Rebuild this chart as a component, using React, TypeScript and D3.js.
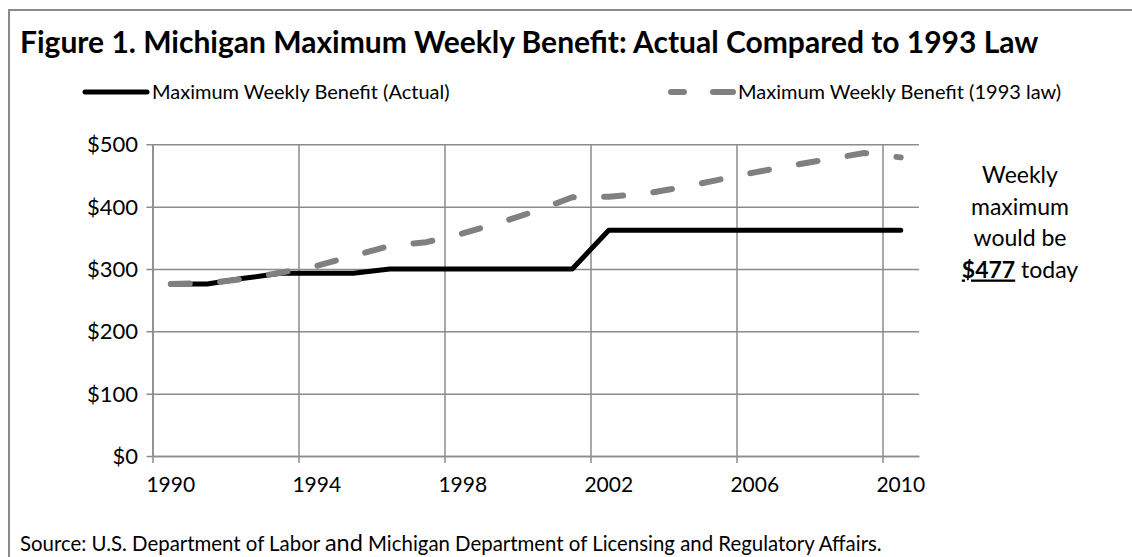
import React, { useEffect, useRef } from 'react';
import * as d3 from 'd3';

// one value per year
const years = [1990, 1991, 1992, 1993, 1994, 1995, 1996, 1997, 1998, 1999, 2000,
  2001, 2002, 2003, 2004, 2005, 2006, 2007, 2008, 2009, 2010];
const actual = [276, 276, 285, 293, 293, 293, 300, 300, 300, 300, 300,
  300, 362, 362, 362, 362, 362, 362, 362, 362, 362];
const law1993 = [276, 277, 284, 294, 305, 321, 337, 343, 357, 374, 393,
  415, 416, 421, 431, 443, 455, 466, 476, 486, 479];

const yTicks = [0, 100, 200, 300, 400, 500];
const xTicks = [1990, 1994, 1998, 2002, 2006, 2010];
const noteLines = ['Weekly', 'maximum', 'would be'];

const W = 1132;
const H = 557;
const FONT = 'Lato, "Open Sans", sans-serif';
const GRID = '#8c8c8c';

export default function App() {
  const svgRef = useRef<SVGSVGElement>(null);

  useEffect(() => {
    if (!svgRef.current) return;
    const svg = d3.select(svgRef.current);
    svg.selectAll('*').remove();

    // outer frame (runs off the right and bottom edges)
    svg.append('rect')
      .attr('x', 9).attr('y', 10)
      .attr('width', W + 20).attr('height', H + 20)
      .attr('fill', 'white')
      .attr('stroke', '#8a8a8a')
      .attr('stroke-width', 2);

    svg.append('text')
      .attr('x', 20).attr('y', 53)
      .attr('font-family', FONT)
      .attr('font-weight', 'bold')
      .attr('font-size', 30)
      .attr('fill', '#000')
      .text('Figure 1. Michigan Maximum Weekly Benefit: Actual Compared to 1993 Law');

    const x = d3.scaleLinear().domain([1990, 2011]).range([152.5, 919]);
    const y = d3.scaleLinear().domain([0, 500]).range([456, 144.3]);

    const g = svg.append('g');

    // horizontal grid + left ticks
    g.append('g')
      .attr('transform', `translate(${x(1990)},0)`)
      .call(d3.axisLeft(y).tickValues(yTicks)
        .tickSize(-(x(2011) - x(1990)))
        .tickSizeOuter(0)
        .tickFormat(() => ''))
      .call(s => s.selectAll('line').attr('stroke', GRID).attr('stroke-width', 1.5).attr('x1', -6))
      .call(s => s.select('.domain').attr('stroke', GRID).attr('stroke-width', 1.5));

    // vertical grid + bottom ticks
    g.append('g')
      .attr('transform', `translate(0,${y(0)})`)
      .call(d3.axisBottom(x).tickValues(xTicks)
        .tickSize(-(y(0) - y(500)))
        .tickSizeOuter(0)
        .tickFormat(() => ''))
      .call(s => s.selectAll('line').attr('stroke', GRID).attr('stroke-width', 1.5).attr('y1', 7))
      .call(s => s.select('.domain').attr('stroke', GRID).attr('stroke-width', 1.5));

    // y labels
    g.selectAll('.ylab')
      .data(yTicks)
      .join('text')
      .attr('x', 138)
      .attr('y', d => y(d))
      .attr('dy', '0.36em')
      .attr('text-anchor', 'end')
      .attr('font-family', FONT)
      .attr('font-size', 22)
      .text(d => `$${d}`);

    // x labels sit in the middle of each year's slot
    g.selectAll('.xlab')
      .data(xTicks)
      .join('text')
      .attr('x', d => x(d + 0.5))
      .attr('y', 492)
      .attr('text-anchor', 'middle')
      .attr('font-family', FONT)
      .attr('font-size', 21)
      .text(d => String(d));

    const line = d3.line<number>()
      .x((_, i) => x(years[i] + 0.5))
      .y(d => y(d));

    g.append('path')
      .datum(actual)
      .attr('fill', 'none')
      .attr('stroke', '#000')
      .attr('stroke-width', 5)
      .attr('stroke-linejoin', 'round')
      .attr('stroke-linecap', 'round')
      .attr('d', line);

    g.append('path')
      .datum(law1993)
      .attr('fill', 'none')
      .attr('stroke', '#808080')
      .attr('stroke-width', 6)
      .attr('stroke-dasharray', '19,30.4')
      .attr('stroke-linejoin', 'round')
      .attr('stroke-linecap', 'round')
      .attr('d', line);

    // legend
    const lg = svg.append('g').attr('font-family', FONT).attr('font-size', 20);
    lg.append('line')
      .attr('x1', 85).attr('x2', 147).attr('y1', 92).attr('y2', 92)
      .attr('stroke', '#000').attr('stroke-width', 5).attr('stroke-linecap', 'round');
    lg.append('text').attr('x', 152).attr('y', 92).attr('dy', '0.35em')
      .text('Maximum Weekly Benefit (Actual)');
    lg.append('line')
      .attr('x1', 671).attr('x2', 733).attr('y1', 92).attr('y2', 92)
      .attr('stroke', '#808080').attr('stroke-width', 6)
      .attr('stroke-dasharray', '13,29,30').attr('stroke-linecap', 'round');
    lg.append('text').attr('x', 738).attr('y', 92).attr('dy', '0.35em')
      .text('Maximum Weekly Benefit (1993 law)');

    // note on the right
    const note = svg.append('g')
      .attr('font-family', FONT)
      .attr('font-size', 23)
      .attr('text-anchor', 'middle');
    noteLines.forEach((t, i) => {
      note.append('text').attr('x', 1020).attr('y', 183 + i * 31.5).text(t);
    });
    const last = note.append('text').attr('x', 1020).attr('y', 183 + 3 * 31.5);
    last.append('tspan')
      .attr('font-weight', 'bold')
      .attr('text-decoration', 'underline')
      .text('$477');
    last.append('tspan').text(' today');

    // source line
    const src = svg.append('text')
      .attr('x', 20).attr('y', 551)
      .attr('font-family', FONT)
      .attr('font-size', 20.4);
    src.append('tspan').text('Source: U.S. Department of Labor ');
    src.append('tspan').attr('font-size', 23.5).text('and');
    src.append('tspan').text(' Michigan Department of Licensing and Regulatory Affairs.');
  }, []);

  return (
    <svg
      ref={svgRef}
      width={W}
      height={H}
      style={{ position: 'absolute', left: 0, top: 0, background: 'white' }}
    />
  );
}
